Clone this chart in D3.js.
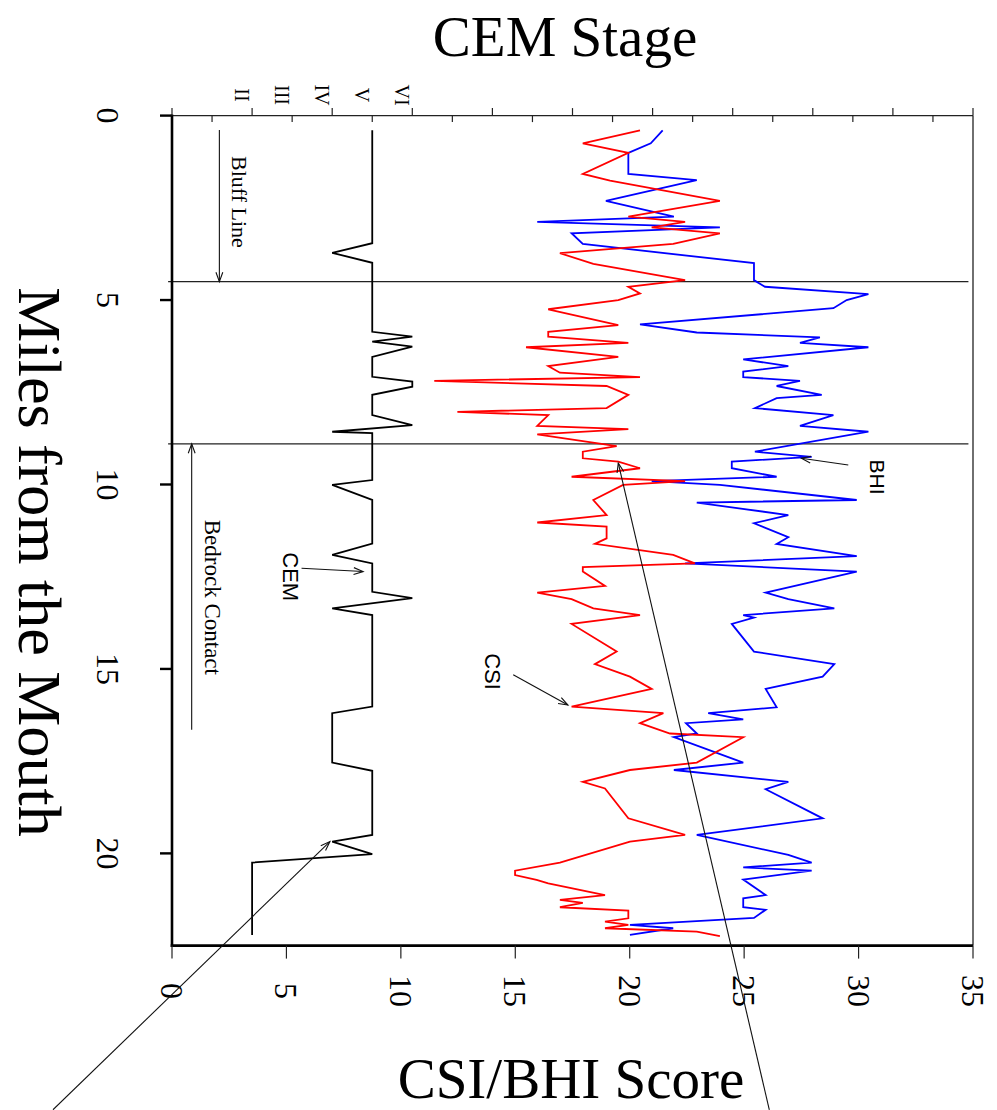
<!DOCTYPE html>
<html>
<head>
<meta charset="utf-8">
<script src="https://cdn.jsdelivr.net/npm/d3@7"></script>
<style>
  html, body { margin: 0; padding: 0; background: #fff; }
  svg { display: block; }
</style>
</head>
<body>
<svg id="chart" width="997" height="1110"></svg>
<script>
// Channel condition stage along the reach (roman stage number as 2..6)
const cemMiles = [0.40, 3.46, 3.72, 3.99, 5.86, 5.99, 6.13, 6.26, 6.54, 7.08, 7.21, 7.35, 7.57, 8.12, 8.39, 8.57, 8.61,
  9.88, 10.01, 10.42, 11.60, 11.91, 12.14, 12.91, 13.08, 13.36, 13.54, 16.02, 16.20, 17.54, 17.76, 19.50, 19.68, 20.02, 20.25, 22.21];
const cemStage = [5, 5, 4, 5, 5, 6, 5, 6, 5, 5, 6, 6, 5, 5, 6, 4, 5,
  5, 4, 5, 5, 4, 5, 5, 6, 4, 5, 5, 4, 4, 5, 5, 4, 5, 2, 2];

// Channel stability index
const csiMiles = [0.40, 0.75, 1.01, 1.58, 1.76, 2.31, 2.74, 2.88, 3.03, 3.19, 3.48, 3.73, 4.02, 4.46, 4.64, 4.82, 5.00, 5.25,
  5.68, 5.86, 5.99, 6.16, 6.28, 6.54, 6.79, 6.97, 7.09, 7.19, 7.33, 7.57, 7.93, 8.03, 8.12, 8.41, 8.50, 8.64, 8.96, 9.11,
  9.29, 9.38, 9.56, 9.79, 9.91, 10.01, 10.42, 10.83, 11.03, 11.14, 11.46, 11.61, 11.91, 12.14, 12.24, 12.36, 12.75, 12.93,
  13.11, 13.36, 13.54, 13.78, 14.53, 14.87, 15.21, 15.54, 16.02, 16.20, 16.47, 16.75, 16.85, 17.54, 17.74, 18.06, 18.24,
  19.05, 19.50, 19.68, 20.25, 20.47, 20.59, 20.72, 20.81, 21.13, 21.26, 21.34, 21.46, 21.55, 21.76, 21.85, 21.94, 22.03,
  22.12, 22.24];
const csiScore = [20.45, 17.95, 19.94, 17.95, 19.14, 23.94, 19.94, 22.42, 20.96, 23.94, 21.90, 16.95, 18.41, 22.42, 19.94, 20.45, 19.50, 16.44,
  19.50, 16.44, 16.44, 19.94, 15.47, 19.50, 16.44, 16.95, 20.45, 11.46, 18.99, 19.94, 18.99, 12.47, 16.44, 15.96, 19.94, 15.96, 19.43, 17.95,
  17.95, 19.50, 20.45, 17.46, 22.42, 19.71, 18.41, 18.99, 15.96, 18.99, 18.99, 18.48, 21.90, 22.85, 17.95, 17.95, 18.92, 15.96,
  17.46, 18.41, 20.45, 17.46, 19.43, 18.48, 20.01, 20.96, 17.46, 21.47, 20.45, 21.76, 24.96, 22.93, 20.01, 17.95, 18.92,
  19.94, 22.42, 20.01, 16.95, 14.99, 14.99, 15.93, 16.44, 18.92, 16.95, 17.95, 16.95, 19.94, 19.94, 18.92, 19.94, 18.92,
  22.93, 23.94];

// Bank height index
const bhiMiles = [0.40, 0.75, 1.01, 1.58, 1.75, 2.31, 2.74, 2.88, 3.03, 3.19, 3.48, 4.00, 4.46, 4.64, 4.84, 5.00, 5.22,
  5.66, 5.88, 6.01, 6.16, 6.28, 6.61, 6.79, 6.94, 7.09, 7.19, 7.33, 7.57, 7.66, 7.93, 8.12, 8.41, 8.57, 9.11, 9.25, 9.38,
  9.56, 9.79, 9.91, 10.01, 10.42, 10.49, 10.83, 11.05, 11.43, 11.61, 11.94, 12.14, 12.36, 12.93, 13.11, 13.36, 13.54, 13.61,
  13.78, 14.53, 14.87, 15.21, 15.54, 16.04, 16.20, 16.37, 16.47, 16.75, 16.85, 17.54, 17.74, 18.06, 18.26, 19.05, 19.50,
  20.04, 20.25, 20.38, 20.47, 20.71, 21.13, 21.22, 21.46, 21.53, 21.75, 21.94, 22.03, 22.21];
const bhiScore = [21.44, 20.92, 19.94, 19.94, 22.93, 18.96, 21.93, 15.96, 23.94, 17.46, 17.95, 25.43, 25.43, 25.91, 30.43, 29.48, 28.90,
  20.45, 22.93, 28.31, 27.44, 30.43, 24.96, 26.93, 24.96, 24.96, 27.44, 26.42, 28.39, 26.42, 25.47, 28.90, 27.44, 30.43, 25.47, 27.95, 24.46,
  24.46, 26.42, 20.96, 23.94, 29.92, 22.93, 26.93, 25.43, 26.93, 26.42, 29.92, 22.42, 29.92, 25.94, 26.93, 28.94, 24.96, 25.43,
  24.46, 25.43, 28.94, 28.43, 25.94, 26.42, 23.43, 24.96, 22.46, 22.93, 21.93, 24.96, 21.93, 26.93, 25.94, 28.43, 22.93,
  26.93, 27.95, 24.96, 27.95, 24.96, 25.94, 24.96, 24.96, 25.94, 25.43, 20.01, 21.90, 20.01];

// Axis ticks and labels
const scoreTicks = [0, 5, 10, 15, 20, 25, 30, 35];
const mileTicks = [0, 5, 10, 15, 20];
const stageTicks = [2, 3, 4, 5, 6];
const stageLabels = ["II", "III", "IV", "V", "VI"];
const stageMinor = d3.range(0, 21);

// Reach boundaries (miles)
const bluffMile = 4.5;
const bedrockMile = 8.9;

const svg = d3.select("#chart");
svg.append("rect").attr("width", 997).attr("height", 1110).attr("fill", "#fff");

const x = d3.scaleLinear().domain([0, 35]).range([172, 973]);      // score
const xs = d3.scaleLinear().domain([0, 20]).range([172, 973]);     // CEM stage
const y = d3.scaleLinear().domain([0, 22.5]).range([115.6, 945.6]); // miles

const serif = "'Liberation Serif', 'Times New Roman', serif";
const sans = "'Liberation Sans', Arial, sans-serif";

// Reach boundary lines
[bluffMile, bedrockMile].forEach(m => {
  svg.append("line").attr("x1", x(-0.17)).attr("x2", x(34.8))
    .attr("y1", y(m)).attr("y2", y(m))
    .attr("stroke", "#222").attr("stroke-width", 1.2);
});

// Series lines
const line = d3.line().x(d => d[0]).y(d => d[1]);
const seriesCEM = cemMiles.map((m, i) => [xs(cemStage[i]), y(m)]);
const seriesCSI = csiMiles.map((m, i) => [x(csiScore[i]), y(m)]);
const seriesBHI = bhiMiles.map((m, i) => [x(bhiScore[i]), y(m)]);

svg.append("path").attr("d", line(seriesCEM)).attr("fill", "none")
  .attr("stroke", "#000").attr("stroke-width", 1.8).attr("stroke-linejoin", "miter");
svg.append("path").attr("d", line(seriesBHI)).attr("fill", "none")
  .attr("stroke", "#0000ff").attr("stroke-width", 1.8).attr("stroke-linejoin", "miter");
svg.append("path").attr("d", line(seriesCSI)).attr("fill", "none")
  .attr("stroke", "#ff0000").attr("stroke-width", 1.8).attr("stroke-linejoin", "miter");

// Plot frame
svg.append("line").attr("x1", x(0)).attr("x2", x(35)).attr("y1", y(0)).attr("y2", y(0))
  .attr("stroke", "#222").attr("stroke-width", 1.3);
svg.append("line").attr("x1", x(35)).attr("x2", x(35)).attr("y1", y(0)).attr("y2", y(22.5))
  .attr("stroke", "#222").attr("stroke-width", 1.3);
svg.append("line").attr("x1", x(0)).attr("x2", x(0)).attr("y1", y(0) - 1).attr("y2", y(22.5) + 1.3)
  .attr("stroke", "#000").attr("stroke-width", 2.6);
svg.append("line").attr("x1", x(0) - 1.3).attr("x2", x(35)).attr("y1", y(22.5)).attr("y2", y(22.5))
  .attr("stroke", "#000").attr("stroke-width", 2.6);

// Bottom score axis
scoreTicks.forEach(v => {
  svg.append("line").attr("x1", x(v)).attr("x2", x(v)).attr("y1", y(22.5)).attr("y2", y(22.5) + 13)
    .attr("stroke", "#222").attr("stroke-width", 1.2);
  svg.append("text").attr("transform", `translate(${x(v) - 11},991) rotate(90)`)
    .attr("text-anchor", "middle").attr("font-family", serif).attr("font-size", 32)
    .attr("fill", "#000").text(v);
});

// Left mile axis
mileTicks.forEach(v => {
  svg.append("line").attr("x1", x(0) - 12).attr("x2", x(0)).attr("y1", y(v)).attr("y2", y(v))
    .attr("stroke", "#000").attr("stroke-width", 2.4);
  svg.append("text").attr("transform", `translate(97,${y(v)}) rotate(90)`)
    .attr("text-anchor", "middle").attr("font-family", serif).attr("font-size", 32)
    .attr("fill", "#000").text(v);
});

// Top CEM stage axis
stageMinor.forEach(v => {
  const up = v % 2 === 0;
  svg.append("line").attr("x1", xs(v)).attr("x2", xs(v))
    .attr("y1", y(0)).attr("y2", up ? y(0) - 7.5 : y(0) + 6.5)
    .attr("stroke", "#222").attr("stroke-width", 1.2);
});
stageTicks.forEach((v, i) => {
  svg.append("text").attr("transform", `translate(${xs(v) - 17},95) rotate(90)`)
    .attr("text-anchor", "middle").attr("font-family", serif).attr("font-size", 20)
    .attr("fill", "#000").text(stageLabels[i]);
});

// Axis titles
svg.append("text").attr("x", 565).attr("y", 56).attr("text-anchor", "middle")
  .attr("font-family", serif).attr("font-size", 57).attr("fill", "#000").text("CEM Stage");
svg.append("text").attr("x", 571).attr("y", 1098).attr("text-anchor", "middle")
  .attr("font-family", serif).attr("font-size", 57).attr("fill", "#000").text("CSI/BHI Score");
svg.append("text").attr("transform", "translate(19,562) rotate(90)").attr("text-anchor", "middle")
  .attr("font-family", serif).attr("font-size", 62).attr("fill", "#000").text("Miles from the Mouth");

// Annotation arrows, given as [score, mile] end points
function arrow(from, to, len = 10, ang = 20) {
  const x0 = x(from[0]), y0 = y(from[1]), x1 = x(to[0]), y1 = y(to[1]);
  const g = svg.append("g").attr("stroke", "#111").attr("stroke-width", 1.1).attr("fill", "none");
  g.append("line").attr("x1", x0).attr("y1", y0).attr("x2", x1).attr("y2", y1);
  const a = Math.atan2(y0 - y1, x0 - x1);
  const r = ang * Math.PI / 180;
  const p1 = [x1 + len * Math.cos(a + r), y1 + len * Math.sin(a + r)];
  const p2 = [x1 + len * Math.cos(a - r), y1 + len * Math.sin(a - r)];
  g.append("path").attr("d", `M${p1[0]},${p1[1]}L${x1},${y1}L${p2[0]},${p2[1]}`);
}
arrow([2.07, 0.39], [2.07, bluffMile]);
arrow([0.86, 16.65], [0.86, bedrockMile]);
arrow([5.66, 12.27], [8.35, 12.36]);
arrow([14.91, 15.16], [17.30, 15.98]);
arrow([29.55, 9.47], [27.50, 9.29]);
arrow([-5.20, 26.95], [6.90, 19.68]);
arrow([26.10, 26.95], [19.50, 9.42]);

// Annotation labels
function vlabel(px, py, txt, font, size) {
  svg.append("text").attr("transform", `translate(${px},${py}) rotate(90)`)
    .attr("text-anchor", "middle").attr("font-family", font).attr("font-size", size)
    .attr("fill", "#000").text(txt);
}
vlabel(x(2.63), y(2.34), "Bluff Line", serif, 22);
vlabel(x(1.44), y(13.06), "Bedrock Contact", serif, 23);
vlabel(x(4.85), y(12.5), "CEM", sans, 22);
vlabel(x(13.68), y(15.07), "CSI", sans, 22);
vlabel(x(30.5), y(9.8), "BHI", sans, 21);
</script>
</body>
</html>
